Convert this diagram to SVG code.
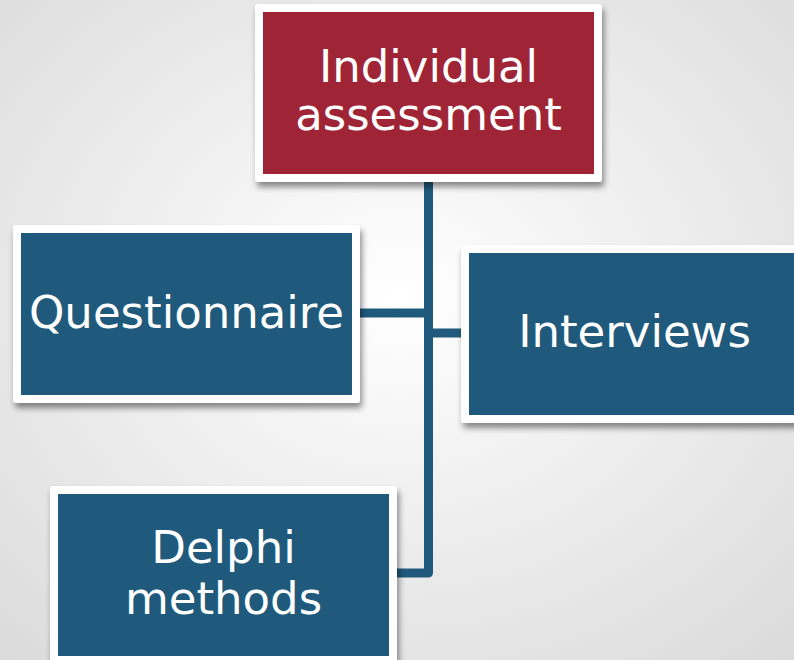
<svg xmlns="http://www.w3.org/2000/svg" width="794" height="660" viewBox="0 0 794 660">
<defs>
<radialGradient id="bg" cx="50%" cy="45%" r="75%">
<stop offset="0" stop-color="#ffffff"/>
<stop offset="1" stop-color="#dadada"/>
</radialGradient>
<filter id="sh" x="-10%" y="-10%" width="130%" height="130%">
<feGaussianBlur in="SourceAlpha" stdDeviation="3"/>
<feOffset dx="2" dy="5" result="b"/>
<feComponentTransfer><feFuncA type="linear" slope="0.45"/></feComponentTransfer>
<feMerge><feMergeNode/><feMergeNode in="SourceGraphic"/></feMerge>
</filter>
</defs>
<style>
.frame{fill:#ffffff;filter:url(#sh)}
.red{fill:#9f2536}
.blue{fill:#1f5a7c}
.t{font-family:"DejaVu Sans",Verdana,sans-serif;font-size:45px;fill:#ffffff;text-anchor:middle}
.c{fill:none;stroke:#1f5a7c;stroke-width:9;stroke-linejoin:round}
</style>
<rect width="794" height="660" fill="url(#bg)"/>
<g id="connectors">
<path class="c" d="M428.5 180 V573 H396"/>
<path class="c" d="M358 313 H428.5"/>
<path class="c" d="M428.5 333 H463"/>
</g>
<g id="node-individual">
<rect class="frame" x="255" y="4" width="347" height="178" rx="3"/>
<rect class="red" x="263" y="12" width="331" height="162"/>
<text class="t" x="428.5" y="82">Individual</text>
<text class="t" x="428.5" y="130">assessment</text>
</g>
<g id="node-questionnaire">
<rect class="frame" x="13" y="225" width="347" height="178" rx="3"/>
<rect class="blue" x="21" y="233" width="331" height="162"/>
<text class="t" x="186.5" y="328">Questionnaire</text>
</g>
<g id="node-interviews">
<rect class="frame" x="461" y="245" width="347" height="178" rx="3"/>
<rect class="blue" x="469" y="253" width="331" height="162"/>
<text class="t" x="634.5" y="347">Interviews</text>
</g>
<g id="node-delphi">
<rect class="frame" x="50" y="486" width="347" height="178" rx="3"/>
<rect class="blue" x="58" y="494" width="331" height="162"/>
<text class="t" x="223.5" y="563">Delphi</text>
<text class="t" x="223.5" y="614">methods</text>
</g>
</svg>
